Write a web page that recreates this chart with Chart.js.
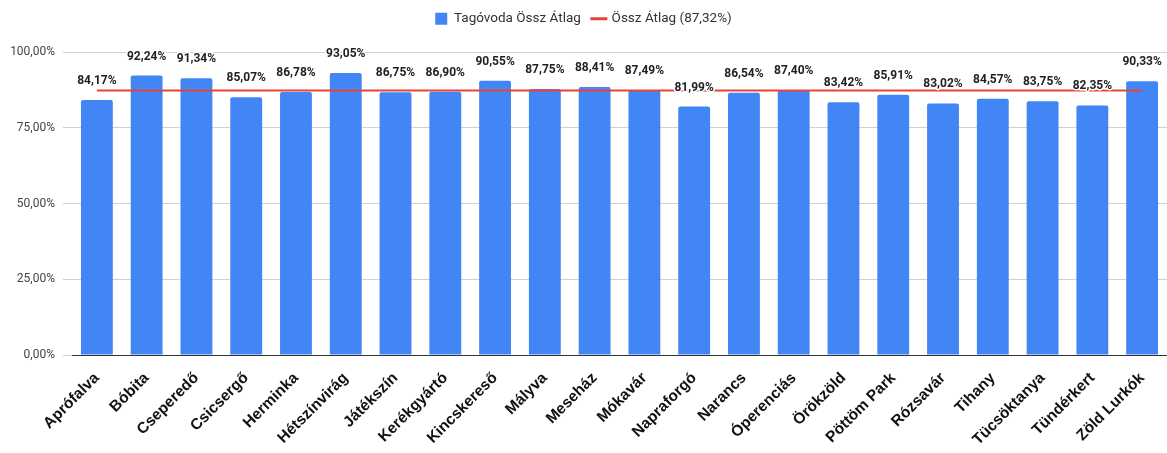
<!DOCTYPE html>
<html>
<head>
<meta charset="utf-8">
<script src="https://cdn.jsdelivr.net/npm/chart.js@4.4.1/dist/chart.umd.min.js"></script>
<style>
  html, body { margin: 0; padding: 0; background: #fff; }
  #wrap { width: 1167px; height: 453px; position: relative; }
</style>
</head>
<body>
<div id="wrap"><canvas id="chart"></canvas></div>
<script>
// Tagóvodák és átlagok
const categories = ['Aprófalva', 'Bóbita', 'Cseperedő', 'Csicsergő', 'Herminka', 'Hétszínvirág',
    'Játékszín', 'Kerékgyártó', 'Kincskereső', 'Mályva', 'Meseház', 'Mókavár', 'Napraforgó',
    'Narancs', 'Óperenciás', 'Örökzöld', 'Pöttöm Park', 'Rózsavár', 'Tihany', 'Tücsöktanya',
    'Tündérkert', 'Zöld Lurkók'];
const tagovodaValues = [84.17, 92.24, 91.34, 85.07, 86.78, 93.05, 86.75, 86.90, 90.55, 87.75,
    88.41, 87.49, 81.99, 86.54, 87.40, 83.42, 85.91, 83.02, 84.57, 83.75, 82.35, 90.33];
const osszAtlag = 87.32;
const yTicks = [0, 25, 50, 75, 100];

const fmt = v => v.toFixed(2).replace('.', ',') + '%';
const FONT = "Roboto, 'Liberation Sans', Arial, sans-serif";
const ARIAL = "'Liberation Sans', Arial, sans-serif";

// címkék a sávok fölött, fehér körvonallal
const barLabels = {
    id: 'barLabels',
    afterDatasetsDraw(chart) {
        const ctx = chart.ctx;
        const meta = chart.getDatasetMeta(1);
        ctx.save();
        ctx.font = 'bold 12px ' + FONT;
        ctx.textAlign = 'center';
        ctx.textBaseline = 'bottom';
        ctx.lineJoin = 'round';
        meta.data.forEach((bar, i) => {
            const txt = fmt(tagovodaValues[i]);
            const y = bar.y - 13;
            ctx.strokeStyle = '#fff';
            ctx.lineWidth = 3;
            ctx.strokeText(txt, bar.x, y);
            ctx.fillStyle = '#222';
            ctx.fillText(txt, bar.x, y);
        });
        ctx.restore();
    }
};

// legenda alatti hely
const legendMargin = {
    id: 'legendMargin',
    beforeInit(chart) {
        const fit = chart.legend.fit;
        chart.legend.fit = function () {
            fit.bind(chart.legend)();
            this.height = 52;
        };
    }
};

function initChart() {
    const ctx = document.getElementById('chart').getContext('2d');
    new Chart(ctx, {
        data: {
            labels: categories,
            datasets: [{
                type: 'line',
                label: 'Össz Átlag (87,32%)',
                data: categories.map(() => osszAtlag),
                borderColor: '#EA4335',
                backgroundColor: '#EA4335',
                borderWidth: 2,
                pointRadius: 0,
                order: 0
            }, {
                type: 'bar',
                label: 'Tagóvoda Össz Átlag',
                data: tagovodaValues,
                backgroundColor: '#4285F4',
                borderRadius: { topLeft: 2, topRight: 2 },
                borderSkipped: 'bottom',
                barPercentage: 0.8,
                categoryPercentage: 0.8,
                order: 1
            }]
        },
        options: {
            responsive: true,
            maintainAspectRatio: false,
            animation: false,
            layout: { padding: { left: 0, right: 0, top: 0, bottom: 0 } },
            plugins: {
                legend: {
                    position: 'top',
                    align: 'center',
                    labels: {
                        font: { family: FONT, size: 13.5 },
                        color: '#333',
                        boxWidth: 12,
                        boxHeight: 12,
                        padding: 12,
                        usePointStyle: true,
                        generateLabels(chart) {
                            return [{
                                text: 'Tagóvoda Össz Átlag',
                                fillStyle: '#4285F4',
                                strokeStyle: '#4285F4',
                                lineWidth: 0,
                                pointStyle: 'rect',
                                fontColor: '#333',
                                datasetIndex: 1
                            }, {
                                text: 'Össz Átlag (87,32%)',
                                fillStyle: '#EA4335',
                                strokeStyle: '#EA4335',
                                lineWidth: 3,
                                pointStyle: 'line',
                                fontColor: '#333',
                                datasetIndex: 0
                            }];
                        }
                    }
                },
                tooltip: { enabled: false }
            },
            scales: {
                x: {
                    offset: true,
                    grid: { display: false },
                    border: { display: true, color: '#333', width: 1 },
                    ticks: {
                        autoSkip: false,
                        maxRotation: 45,
                        minRotation: 45,
                        padding: 6,
                        color: '#111',
                        font: { family: ARIAL, size: 15.5, weight: 'bold' }
                    },
                    afterFit(scale) { scale.height = 98; }
                },
                y: {
                    min: 0,
                    max: 100,
                    afterBuildTicks(scale) { scale.ticks = yTicks.map(v => ({ value: v })); },
                    grid: { color: '#d0d0d0', tickLength: 9, drawTicks: true },
                    border: { display: false },
                    ticks: {
                        padding: 8,
                        color: '#444',
                        font: { family: FONT, size: 12 },
                        callback: v => fmt(v)
                    },
                    afterFit(scale) { scale.width = 72; }
                }
            }
        },
        plugins: [barLabels, legendMargin]
    });
}

document.addEventListener('DOMContentLoaded', initChart);
</script>
</body>
</html>
